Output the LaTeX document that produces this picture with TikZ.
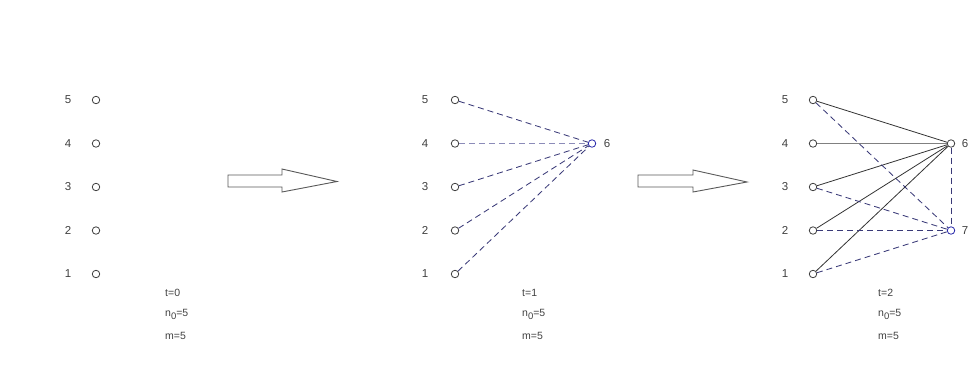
\documentclass[tikz,border=0pt]{standalone}
\usepackage{fontspec}
\setmainfont{Liberation Sans}
\definecolor{navyd}{RGB}{58,58,120}
\definecolor{lnavy}{RGB}{140,140,185}
\definecolor{bnode}{RGB}{40,40,170}
\newcommand{\nzero}{n\raisebox{-3pt}{\fontsize{9.5}{10}\selectfont 0}=5}
\begin{document}
\begin{tikzpicture}[x=1pt,y=-1pt,
  vtx/.style={circle,draw=black!75,line width=0.8pt,inner sep=0pt,minimum size=7.5pt},
  bvtx/.style={vtx,draw=bnode},
  lbl/.style={font=\fontsize{11.5}{13}\selectfont,text=black!75,inner sep=0pt},
  info/.style={font=\fontsize{10.5}{12}\selectfont,text=black!75,inner sep=0pt,anchor=west},
  dsh/.style={draw=navyd,line width=0.85pt,dash pattern=on 6pt off 4pt},
  ldsh/.style={dsh,draw=lnavy,line width=1pt},
  sol/.style={draw=black!80,line width=0.8pt},
  lsol/.style={draw=black!50,line width=1pt},
  bigarrow/.style={draw=black!65,line width=0.9pt,fill=white}]
\useasboundingbox (0,0) rectangle (970,376);
% panel 1
\foreach \i/\y in {5/100,4/143.5,3/187,2/230.5,1/274}{
  \node[lbl] (La\i) at (68,\y) {\i};
  \node[vtx] (A\i) at (96,\y) {};
}
\node[info] (ta) at (165,293) {t=0};
\node[info] (na) at (165,314) {\nzero};
\node[info] (ma) at (165,336) {m=5};
% arrow 1
\draw[bigarrow] (228,175) -- (282,175) -- (282,169) -- (337,181.5) -- (282,192) -- (282,187) -- (228,187) -- cycle;
% panel 2
\foreach \i/\y in {5/100,4/143.5,3/187,2/230.5,1/274}{
  \node[lbl] (Lb\i) at (425,\y) {\i};
  \node[vtx] (B\i) at (455,\y) {};
}
\node[bvtx] (B6) at (592,143.5) {};
\node[lbl] (Lb6) at (607,143.5) {6};
\draw[dsh] (B5) -- (B6);
\draw[ldsh] (B4) -- (B6);
\draw[dsh] (B3) -- (B6);
\draw[dsh] (B2) -- (B6);
\draw[dsh] (B1) -- (B6);
\node[info] (tb) at (522,293) {t=1};
\node[info] (nb) at (522,314) {\nzero};
\node[info] (mb) at (522,336) {m=5};
% arrow 2
\draw[bigarrow] (638,175) -- (693,175) -- (693,170) -- (747,182) -- (693,192) -- (693,187) -- (638,187) -- cycle;
% panel 3
\foreach \i/\y in {5/100,4/143.5,3/187,2/230.5,1/274}{
  \node[lbl] (Lc\i) at (785,\y) {\i};
  \node[vtx] (C\i) at (813,\y) {};
}
\node[vtx] (C6) at (951,143.5) {};
\node[bvtx] (C7) at (951,230.5) {};
\node[lbl] (Lc6) at (965,143.5) {6};
\node[lbl] (Lc7) at (965,230.5) {7};
\draw[sol] (C5) -- (C6);
\draw[lsol] (C4) -- (C6);
\draw[sol] (C3) -- (C6);
\draw[sol] (C2) -- (C6);
\draw[sol] (C1) -- (C6);
\draw[dsh] (C5) -- (C7);
\draw[dsh] (C3) -- (C7);
\draw[dsh] (C2) -- (C7);
\draw[dsh] (C1) -- (C7);
\draw[dsh] (C6) -- (C7);
\node[info] (tc) at (878,293) {t=2};
\node[info] (nc) at (878,314) {\nzero};
\node[info] (mc) at (878,336) {m=5};
\end{tikzpicture}
\end{document}
